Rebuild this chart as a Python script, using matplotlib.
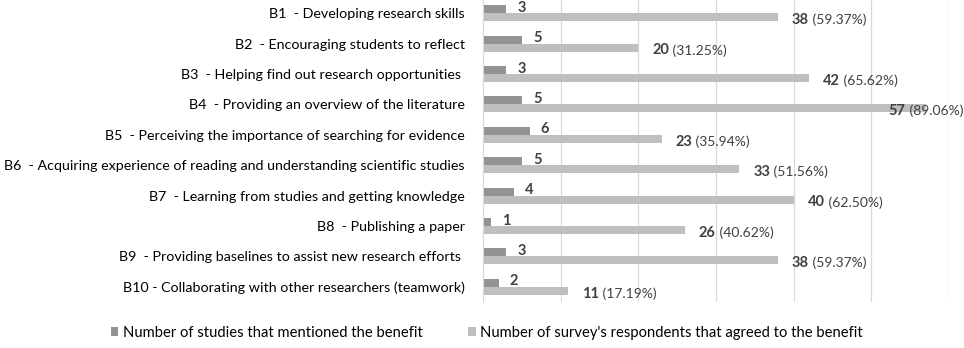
import matplotlib.pyplot as plt
import numpy as np

# benefits data
labels = ["B1  - Developing research skills",
          "B2  - Encouraging students to reflect",
          "B3  - Helping find out research opportunities ",
          "B4  - Providing an overview of the literature",
          "B5  - Perceiving the importance of searching for evidence",
          "B6  - Acquiring experience of reading and understanding scientific studies",
          "B7  - Learning from studies and getting knowledge",
          "B8  - Publishing a paper",
          "B9  - Providing baselines to assist new research efforts ",
          "B10 - Collaborating with other researchers (teamwork)"]
studies = [3, 5, 3, 5, 6, 5, 4, 1, 3, 2]
survey = [38, 20, 42, 57, 23, 33, 40, 26, 38, 11]
survey_pct = ["59.37%", "31.25%", "65.62%", "89.06%", "35.94%",
              "51.56%", "62.50%", "40.62%", "59.37%", "17.19%"]

plt.rcParams['font.family'] = ['Lato', 'DejaVu Sans']
txt = '#404040'

fig = plt.figure(figsize=(9.64, 3.48), dpi=100)
ax = fig.add_axes([483 / 964, 1 - 302 / 348, 466 / 964, 304 / 348])

y = np.arange(len(labels))
h = 0.263
b1 = ax.barh(y - h / 2, studies, height=h, color='#939393',
             label='Number of studies that mentioned the benefit')
b2 = ax.barh(y + h / 2, survey, height=h, color='#bfbfbf',
             label="Number of survey's respondents that agreed to the benefit")

ax.set_xlim(0, 60)
ax.set_ylim(len(labels) - 0.5, -0.5)
ax.set_xticks(range(0, 61, 10))
ax.xaxis.grid(True, color='#d9d9d9', linewidth=0.9)
ax.set_axisbelow(True)
ax.tick_params(axis='x', length=0, labelbottom=False)
ax.tick_params(axis='y', length=0, pad=13)
ax.set_yticks(y)
ax.set_yticklabels(labels, fontsize=10.25, color='black')
for s in ['top', 'right', 'bottom']:
    ax.spines[s].set_visible(False)
ax.spines['left'].set_color('#d9d9d9')

# value labels
pairs = []
for i in range(len(labels)):
    ax.annotate(str(studies[i]), (studies[i], y[i] - h / 2), xytext=(8, 1),
                textcoords='offset points', va='center', ha='left',
                fontsize=10.5, fontweight='bold', color=txt)
    t = ax.annotate(str(survey[i]), (survey[i], y[i] + h / 2), xytext=(10, -2),
                    textcoords='offset points', va='center', ha='left',
                    fontsize=10.5, fontweight='bold', color=txt)
    p = ax.annotate(' (' + survey_pct[i] + ')', xy=(1, 0.5), xycoords=t,
                    va='center', ha='left', fontsize=10, color=txt,
                    annotation_clip=False)
    pairs.append((t, p))

# keep labels inside the figure like excel does
fig.canvas.draw()
r = fig.canvas.get_renderer()
for t, p in pairs:
    right = p.get_window_extent(r).x1
    if right > fig.bbox.width - 1:
        dx = (right - fig.bbox.width + 1) * 72 / fig.dpi
        ox, oy = t.xyann
        t.xyann = (ox - dx, oy)

fig.legend(handles=[b1, b2], loc='center', bbox_to_anchor=(0.505, 0.043),
           ncol=2, frameon=False, fontsize=10.6, handlelength=0.5,
           handleheight=0.55, handletextpad=0.3, columnspacing=3.1,
           labelcolor='black')

plt.savefig('out.png')
